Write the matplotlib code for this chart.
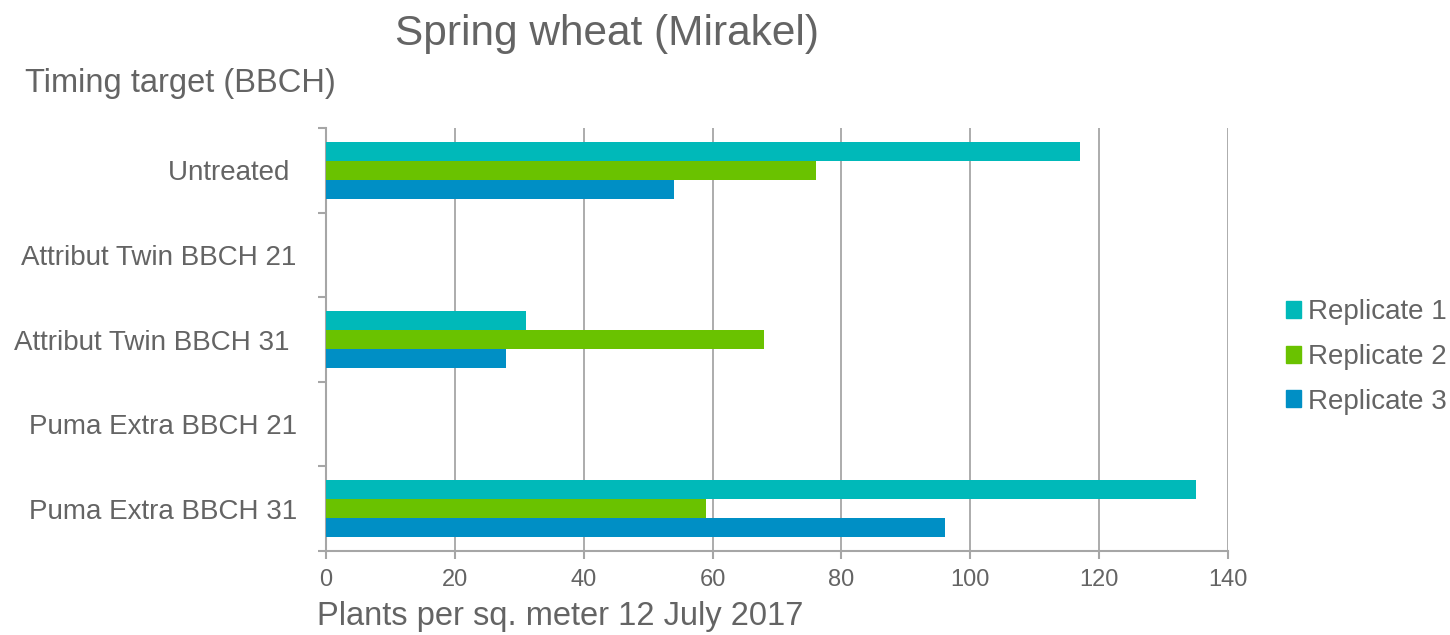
import matplotlib
matplotlib.use("Agg")
import matplotlib.pyplot as plt
from matplotlib.patches import Patch
import numpy as np

# ---------------------------------------------------------------------------
# data
categories = ["Untreated ", "Attribut Twin BBCH 21", "Attribut Twin BBCH 31 ",
              "Puma Extra BBCH 21", "Puma Extra BBCH 31"]
series_names = ["Replicate 1", "Replicate 2", "Replicate 3"]
replicate_1 = [117, 0, 31, 0, 135]
replicate_2 = [76, 0, 68, 0, 59]
replicate_3 = [54, 0, 28, 0, 96]
x_ticks = [0, 20, 40, 60, 80, 100, 120, 140]

COLORS = ["#00b9b9", "#6ac200", "#008fc5"]
TEXT = "#646464"
GRID = "#a6a6a6"

plt.rcParams["font.family"] = ["Liberation Sans", "DejaVu Sans"]

fig = plt.figure(figsize=(14.5, 6.35), dpi=100)
ax = fig.add_axes([326 / 1450, 1 - 551 / 635, 902 / 1450, 423 / 635])

y = np.arange(len(categories))
bar_h = 0.225
for i, (vals, name) in enumerate(zip([replicate_1, replicate_2, replicate_3], series_names)):
    ax.barh(y + (i - 1) * bar_h, vals, height=bar_h, color=COLORS[i],
            label=name, zorder=3)

ax.set_xlim(0, 140)
ax.set_ylim(len(categories) - 0.5, -0.5)
ax.set_xticks(x_ticks)
ax.set_yticks(y)
ax.set_yticklabels(categories)
ax.set_yticks(np.arange(-0.5, len(categories)), minor=True)

ax.grid(axis="x", color=GRID, lw=1.3, zorder=0)
for s in ["top", "right"]:
    ax.spines[s].set_visible(False)
for s in ["left", "bottom"]:
    ax.spines[s].set_color(GRID)
    ax.spines[s].set_linewidth(1.5)

ax.tick_params(axis="y", which="major", length=0, pad=21, labelsize=20, labelcolor=TEXT)
ax.tick_params(axis="y", which="minor", length=6, width=1.5, color=GRID)
ax.tick_params(axis="x", length=6, width=1.5, color=GRID, pad=7,
               labelsize=17, labelcolor=TEXT)

# titles (positioned like the original text boxes)
fig.text(607 / 1450, 1 - 45 / 635, "Spring wheat (Mirakel)", ha="center",
         va="baseline", fontsize=30.5, color=TEXT)
fig.text(25 / 1450, 1 - 92 / 635, "Timing target (BBCH)", ha="left",
         va="baseline", fontsize=23.5, color=TEXT)
fig.text(317 / 1450, 1 - 625 / 635, "Plants per sq. meter 12 July 2017", ha="left",
         va="baseline", fontsize=23.5, color=TEXT)

handles = [Patch(color=c, label=n) for c, n in zip(COLORS, series_names)]
fig.legend(handles=handles, loc="center left", bbox_to_anchor=(1286 / 1450, 1 - 357 / 635),
           frameon=False, fontsize=20, handlelength=0.55, handleheight=0.55,
           handletextpad=0.25, labelspacing=0.67, borderpad=0, borderaxespad=0,
           labelcolor=TEXT)

fig.savefig("out.png", dpi=100)
